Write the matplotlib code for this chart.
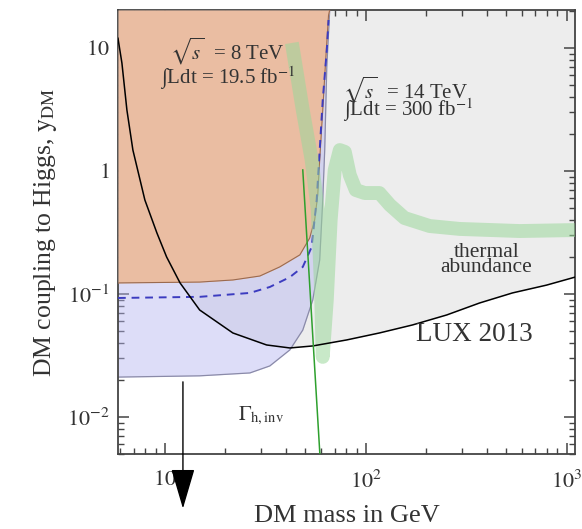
"""Higgs-portal dark matter: coupling vs mass, LHC invisible-width reach vs LUX."""

import matplotlib

matplotlib.use("Agg")
import matplotlib.pyplot as plt  # noqa: E402
from matplotlib.ticker import FixedLocator, NullFormatter  # noqa: E402

GRAY_FILL = "#ededed"
ORANGE = "#eabda2"
ORANGE_EDGE = "#9a6a50"
BLUE_FILL = "#b4b4f0"
BLUE_EDGE = "#8a8aa8"
DASH = "#3c3cc0"
BAND = "#9bd89b"
GAMMA = "#2ea02e"
TEXT = "#333333"

plt.rcParams.update({
    "font.family": ["Liberation Serif", "DejaVu Serif"],
    "mathtext.fontset": "stix",
    "font.size": 15,
    "axes.edgecolor": "#444444",
    "axes.linewidth": 1.3,
    "xtick.direction": "in",
    "ytick.direction": "in",
    "xtick.color": "#444444",
    "ytick.color": "#444444",
    "xtick.labelcolor": TEXT,
    "ytick.labelcolor": TEXT,
})

X_MIN, X_MAX = 5.84, 1100.0
Y_MIN, Y_MAX = 0.005, 20.4

# LUX 2013 direct-detection bound
lux_mass = [5.84, 6.11, 6.47, 6.93, 7.95, 9.13, 10.2, 11.9, 14.9, 21.8, 32.1,
            41.9, 54.5, 80.4, 117, 171, 253, 369, 538, 794, 1100]
lux_y = [12.0, 7.55, 3.13, 1.48, 0.581, 0.313, 0.200, 0.123, 0.0741, 0.0482,
         0.0385, 0.0364, 0.0378, 0.0423, 0.0482, 0.0560, 0.0675, 0.0845,
         0.102, 0.118, 0.137]

# 8 TeV, 19.5 fb^-1 excluded region (lower edge)
lhc8_mass = [5.84, 14.9, 21.8, 29.7, 37.3, 47.0, 52.6, 55.7, 57.7, 59.0, 61.1,
             63.2, 65.3, 66.2]
lhc8_y = [0.123, 0.125, 0.130, 0.140, 0.166, 0.208, 0.285, 0.400, 0.638, 1.23,
          3.13, 7.99, 18.5, 20.4]

# 14 TeV, 300 fb^-1 projected reach (lower edge)
lhc14_mass = [5.84, 14.9, 26.5, 33.3, 41.9, 48.6, 54.5, 59.0, 61.1, 62.5,
              64.0, 66.2]
lhc14_y = [0.0211, 0.0216, 0.0228, 0.0260, 0.0351, 0.0509, 0.0894, 0.189,
           0.581, 1.48, 7.0, 20.4]

# dashed 14 TeV curve
dash_mass = [5.84, 14.9, 26.5, 33.3, 41.9, 48.6, 53.8, 57.0, 59.0, 61.1,
             64.0, 65.3]
dash_y = [0.0928, 0.0948, 0.102, 0.114, 0.137, 0.166, 0.241, 0.581, 1.48,
          3.78, 9.63, 16.9]

# thermal abundance band
thermal_mass = [42.9, 48.6, 53.8, 57.7, 59.7, 61.1, 64.0, 66.9, 70.1, 74.3,
                78.7, 83.3, 89.2, 98.9, 117, 132, 156, 208, 294, 584, 1100]
thermal_y = [11.0, 3.13, 1.23, 0.482, 0.130, 0.0308, 0.0894, 0.400, 1.02,
             1.48, 1.43, 0.928, 0.701, 0.662, 0.662, 0.529, 0.415, 0.357,
             0.338, 0.325, 0.331]

# Gamma_h,inv line
gamma_mass = [48.6, 59.5]
gamma_y = [1.02, 0.0042]

# arrow (start, tip)
arrow_mass = [12.3, 12.3]
arrow_y = [0.0193, 0.0018]

x_major = [10, 100, 1000]
x_labels = ["$10$", "$10^{2}$", "$10^{3}$"]
y_major = [0.01, 0.1, 1, 10]
y_labels = ["$10^{-2}$", "$10^{-1}$", "$1$", "$10$"]


def main() -> None:
    fig = plt.figure(figsize=(5.82, 5.29), dpi=100)
    ax = fig.add_axes([0.2027, 0.1418, 0.785, 0.8394])
    ax.set_xscale("log")
    ax.set_yscale("log")
    ax.set_xlim(X_MIN, X_MAX)
    ax.set_ylim(Y_MIN, Y_MAX)

    # LUX excluded (above the curve)
    ax.fill_between(lux_mass, lux_y, Y_MAX, color=GRAY_FILL, lw=0, zorder=1)
    # 14 TeV reach
    ax.fill_between(lhc14_mass, lhc14_y, Y_MAX, color=BLUE_FILL, alpha=0.45,
                    lw=0, zorder=2)
    ax.plot(lhc14_mass, lhc14_y, color=BLUE_EDGE, lw=0.9, zorder=2.5)
    # 8 TeV exclusion
    ax.fill_between(lhc8_mass, lhc8_y, Y_MAX, color=ORANGE, lw=0, zorder=3)
    ax.plot(lhc8_mass, lhc8_y, color=ORANGE_EDGE, lw=0.8, zorder=3.5)

    ax.plot(dash_mass, dash_y, color=DASH, lw=1.4, ls=(0, (4, 3)), zorder=4)
    ax.plot(thermal_mass, thermal_y, color=BAND, lw=10, alpha=0.55,
            solid_capstyle="butt", solid_joinstyle="round", zorder=5)
    ax.plot(lux_mass, lux_y, color="black", lw=1.1, zorder=6)
    ax.plot(gamma_mass, gamma_y, color=GAMMA, lw=1.1, zorder=6)

    ax.annotate("", xy=(arrow_mass[1], arrow_y[1]),
                xytext=(arrow_mass[0], arrow_y[0]),
                arrowprops=dict(arrowstyle="-|>,head_length=1.7,head_width=0.5",
                                mutation_scale=15, color="black", lw=1.0,
                                shrinkA=0, shrinkB=0),
                annotation_clip=False, zorder=7)

    ax.text(20.5, 9.3, r"$\sqrt{s}$  = 8 TeV", ha="center", va="center",
            fontsize=15, color=TEXT, zorder=8)
    ax.text(20.5, 5.7, "\u222bLdt = 19.5 fb$^{-1}$", ha="center",
            va="center", fontsize=15, color=TEXT, zorder=8)
    ax.text(77, 4.56, r"$\sqrt{s}$  = 14 TeV", ha="left", va="center",
            fontsize=15, color=TEXT, zorder=8)
    ax.text(77, 3.13, "\u222bLdt = 300 fb$^{-1}$", ha="left", va="center",
            fontsize=15, color=TEXT, zorder=8)
    ax.text(400, 0.19, "thermal\nabundance", ha="center", va="center",
            fontsize=15.5, linespacing=0.7, color=TEXT, zorder=8)
    ax.text(349, 0.0464, "LUX 2013", ha="center", va="center",
            fontsize=19.5, color=TEXT, zorder=8)
    ax.text(23, 0.0101, r"$\Gamma_{\mathrm{h,inv}}$", ha="left", va="center",
            fontsize=15, color=TEXT, zorder=8)

    ax.xaxis.set_major_locator(FixedLocator(x_major))
    ax.set_xticklabels(x_labels)
    ax.yaxis.set_major_locator(FixedLocator(y_major))
    ax.set_yticklabels(y_labels)
    ax.xaxis.set_minor_formatter(NullFormatter())
    ax.yaxis.set_minor_formatter(NullFormatter())
    ax.tick_params(which="both", top=True, right=True, labelsize=16)
    ax.tick_params(which="major", length=8, width=1.1)
    ax.tick_params(which="minor", length=4, width=1.0)
    ax.tick_params(axis="x", pad=12)
    ax.tick_params(axis="y", pad=6)

    ax.set_xlabel("DM mass in GeV", fontsize=19, color=TEXT, labelpad=9)
    ax.set_ylabel(r"DM coupling to Higgs, $\mathrm{y}_{\mathrm{DM}}$",
                  fontsize=18.5, color=TEXT, labelpad=6)

    fig.savefig("out.png", dpi=100)
    plt.close(fig)


if __name__ == "__main__":
    main()
